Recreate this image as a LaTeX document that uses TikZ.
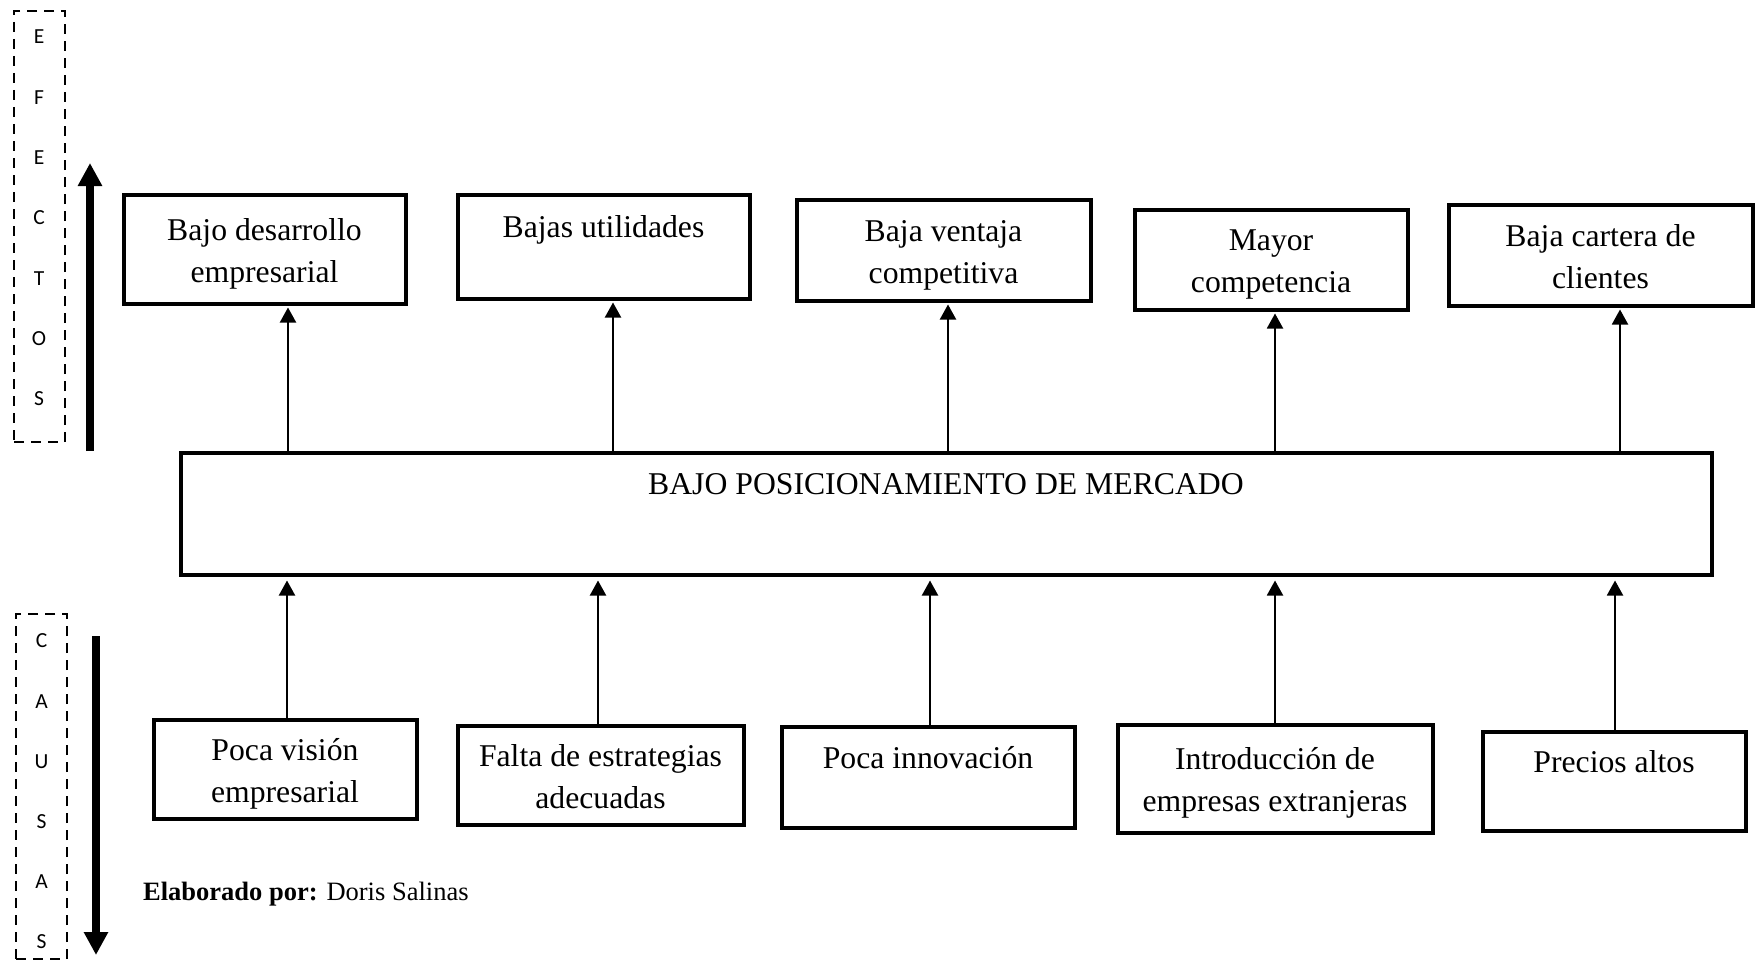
\documentclass[tikz,border=0pt]{standalone}
\usepackage{fontspec}
\setmainfont{Liberation Serif}
\newfontfamily\sansf{Carlito}
\usetikzlibrary{arrows.meta}
\newcommand\topst{\rule{0pt}{37.4pt}}
\begin{document}
\begin{tikzpicture}[x=1pt,y=-1pt,
  box/.style={draw,line width=4pt,align=center,inner sep=0pt,font=\fontsize{31.7}{42}\selectfont},
  conn/.style={line width=2pt,-{Triangle[width=16pt,length=15pt]}},
  bigarrow/.style={line width=7.5pt,-{Triangle[width=23pt,length=23pt]}},
  dashbox/.style={draw,dash pattern=on 10pt off 7pt,line width=2.5pt,inner sep=0pt},
  letter/.style={font=\sansf\fontsize{21.5}{21.5}\selectfont,inner sep=0pt},
  plain/.style={inner sep=0pt}]
\useasboundingbox (0,0) rectangle (1758,963);

% side labels
\node[dashbox,minimum width=51pt,minimum height=431pt] (efbox) at (39.5,226.5) {};
\foreach \l [count=\i] in {E,F,E,C,T,O,S}
  \node[letter] (ef\i) at (39,{37+60.3*(\i-1)}) {\l};
\node[dashbox,minimum width=51pt,minimum height=345pt] (cabox) at (41.5,786.5) {};
\foreach \l [count=\i] in {C,A,U,S,A,S}
  \node[letter] (ca\i) at (41.5,{641+60.2*(\i-1)}) {\l};

\coordinate (upS) at (90,451);
\coordinate (upE) at (90,163);
\draw[bigarrow] (upS) -- (upE);
\coordinate (dnS) at (96,636);
\coordinate (dnE) at (96,955);
\draw[bigarrow] (dnS) -- (dnE);

% effects
\node[box,minimum width=282pt,minimum height=109pt] (t1) at (264.5,249) {\topst Bajo desarrollo\\empresarial\strut};
\node[box,minimum width=292pt,minimum height=104pt] (t2) at (603.5,246.5) {\topst Bajas utilidades\\\strut};
\node[box,minimum width=294pt,minimum height=101pt] (t3) at (943.5,250) {\topst Baja ventaja\\competitiva\strut};
\node[box,minimum width=273pt,minimum height=100pt] (t4) at (1271,259.5) {\topst Mayor\\competencia\strut};
\node[box,minimum width=304pt,minimum height=101pt] (t5) at (1600.5,255) {\topst Baja cartera de\\clientes\strut};

% problem
\node[box,minimum width=1531pt,minimum height=122pt] (main) at (946,513.5) {};
\node[plain,anchor=base,font=\fontsize{31.7}{42}\selectfont] (maintxt) at (946,494) {BAJO POSICIONAMIENTO DE MERCADO};

% causes
\node[box,minimum width=263pt,minimum height=99pt] (b1) at (285,769) {\topst Poca visión\\empresarial\strut};
\node[box,minimum width=286pt,minimum height=99pt] (b2) at (600.5,775) {\topst Falta de estrategias\\adecuadas\strut};
\node[box,minimum width=293pt,minimum height=101pt] (b3) at (928,777) {\topst Poca innovación\\\strut};
\node[box,minimum width=315pt,minimum height=108pt] (b4) at (1275,778.5) {\topst Introducción de\\empresas extranjeras\strut};
\node[box,minimum width=263pt,minimum height=99pt] (b5) at (1614,781) {\topst Precios altos\\\strut};

% connectors up to effects
\foreach \x [count=\i] in {288,613,948,1275,1620} {
  \coordinate (xa\i) at (\x,0);
  \draw[conn,shorten >=2pt] (main.north -| xa\i) -- (t\i.south -| xa\i);
}
% connectors from causes
\foreach \x [count=\i] in {287,598,930,1275,1615} {
  \coordinate (xb\i) at (\x,0);
  \draw[conn,shorten >=4pt] (b\i.north -| xb\i) -- (main.south -| xb\i);
}

\node[plain,anchor=base west,font=\fontsize{26.5}{32}\selectfont] (credit) at (143,900) {\textbf{Elaborado por:} Doris Salinas};
\end{tikzpicture}
\end{document}
